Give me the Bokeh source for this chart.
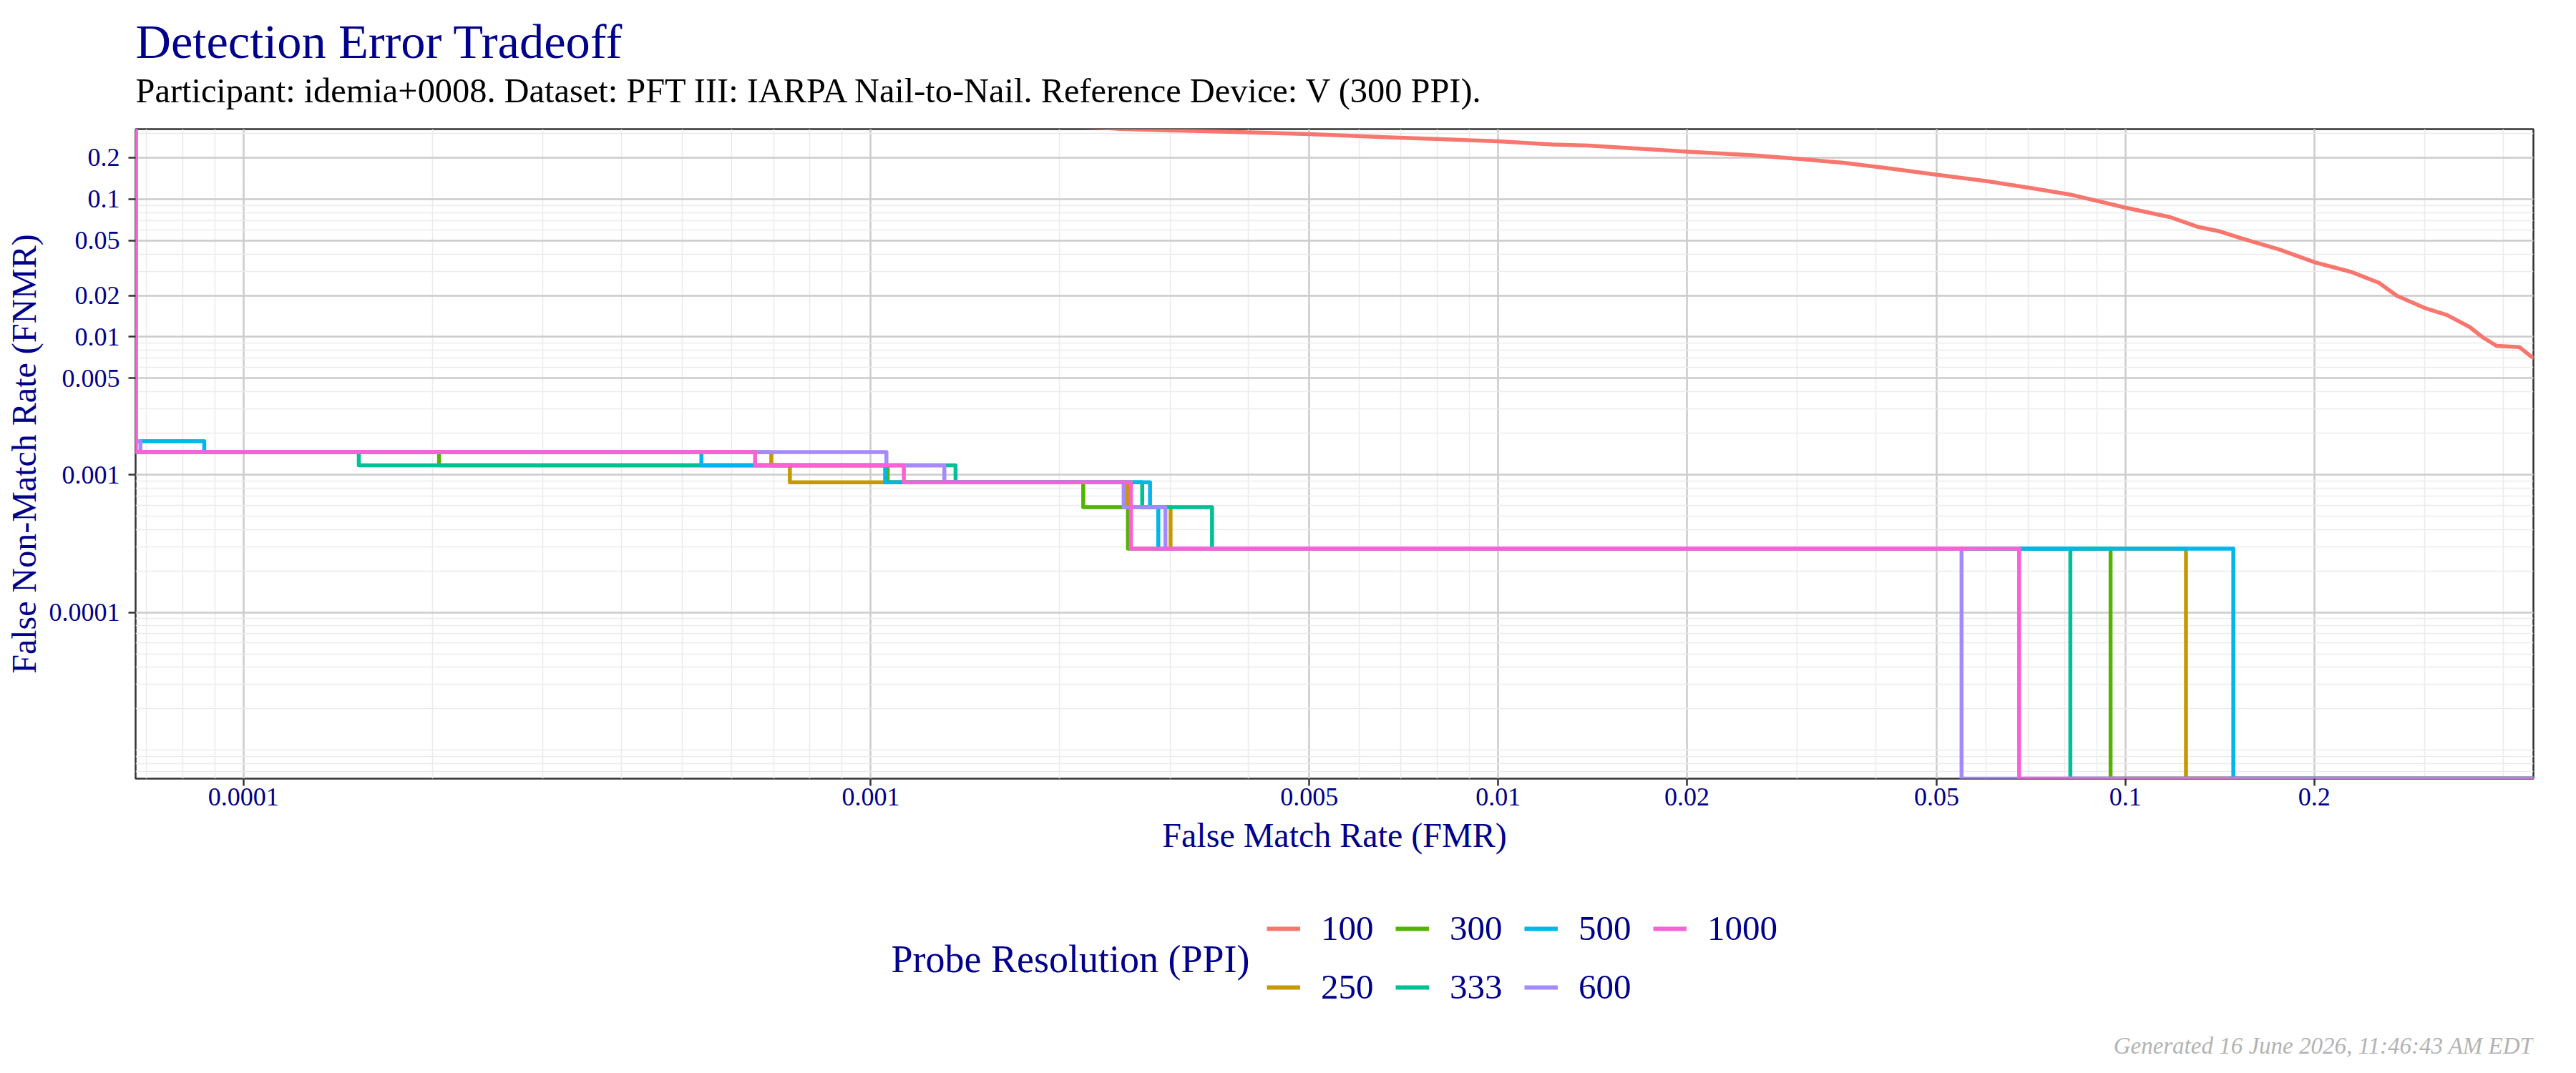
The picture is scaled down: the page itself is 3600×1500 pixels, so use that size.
from bokeh.plotting import figure
from bokeh.models import FixedTicker, Label, Legend, LegendItem, Range1d
from bokeh.layouts import column
from bokeh.embed import file_html
from bokeh.resources import INLINE

FONT = "Liberation Serif"
NAVY = "#00008B"

# ---------------- data ----------------
series_names = ["100", "250", "300", "333", "500", "600", "1000"]
series_colors = ["#F8766D", "#C49A00", "#53B400", "#00C094", "#00B6EB", "#A58AFF", "#FB61D7"]

# 100 PPI: continuous DET curve
fmr_100 = [0.0015, 0.0025, 0.00291, 0.003439, 0.005013, 0.006699, 0.01, 0.01221, 0.01395, 0.02,
           0.02542, 0.03002, 0.03546, 0.0419, 0.05, 0.06046, 0.07142, 0.0816, 0.1, 0.1178,
           0.1302, 0.1415, 0.1537, 0.1757, 0.2007, 0.2293, 0.2535, 0.2709, 0.2995, 0.3255,
           0.3536, 0.3718, 0.3908, 0.4249, 0.4437, 0.46]
fnmr_100 = [0.37, 0.3235, 0.317, 0.3112, 0.2966, 0.2813, 0.2632, 0.2496, 0.2449, 0.2215,
            0.2087, 0.1966, 0.1838, 0.1676, 0.1506, 0.1347, 0.1195, 0.1081, 0.0868, 0.0741,
            0.0631, 0.0583, 0.0517, 0.04323, 0.0347, 0.0296, 0.02472, 0.01987, 0.01627, 0.01443,
            0.01182, 0.00988, 0.0086, 0.00843, 0.00719, 0.0068]

# step curves: FMR where FNMR drops, and FNMR level held before each drop
fmr_first = 6.73e-5      # smallest FMR observed
fmr_last = 0.46          # largest FMR observed
fnmr_top = 1.0           # FNMR before the first threshold
fnmr_floor = 6.21e-6     # FNMR after the last drop

drops_250 = [0.000694, 0.000743, 0.002564, 0.003005, 0.1249]
levels_250 = [0.00146, 0.00117, 0.00088, 0.00058, 0.00029]

drops_300 = [0.000205, 0.001064, 0.002181, 0.002570, 0.0947]
levels_300 = [0.00146, 0.00117, 0.00088, 0.00058, 0.00029]

drops_333 = [0.0001527, 0.001365, 0.002708, 0.003499, 0.0817]
levels_333 = [0.00146, 0.00117, 0.00088, 0.00058, 0.00029]

drops_500 = [0.0000866, 0.000537, 0.001054, 0.002787, 0.002873, 0.1486]
levels_500 = [0.00175, 0.00146, 0.00117, 0.00088, 0.00058, 0.00029]

drops_600 = [0.0000685, 0.001059, 0.001310, 0.002530, 0.002949, 0.0548]
levels_600 = [0.00175, 0.00146, 0.00117, 0.00088, 0.00058, 0.00029]

drops_1000 = [0.000654, 0.001129, 0.002598, 0.0677]
levels_1000 = [0.00146, 0.00117, 0.00088, 0.00029]

x_tick_values = [0.0001, 0.001, 0.005, 0.01, 0.02, 0.05, 0.1, 0.2]
x_tick_labels = ["0.0001", "0.001", "0.005", "0.01", "0.02", "0.05", "0.1", "0.2"]
y_tick_values = [0.0001, 0.001, 0.005, 0.01, 0.02, 0.05, 0.1, 0.2]
y_tick_labels = ["0.0001", "0.001", "0.005", "0.01", "0.02", "0.05", "0.1", "0.2"]

x_limits = [6.73e-5, 0.4471]
y_limits = [6.21e-6, 0.3226]

title_text = "Detection Error Tradeoff"
subtitle_text = ("Participant: idemia+0008. Dataset: PFT III: IARPA Nail-to-Nail. "
                 "Reference Device: V (300 PPI).")
legend_title = "Probe Resolution (PPI)"
footer_text = "Generated 16 June 2026, 11:46:43 AM EDT"


def step_path(drops, levels):
    xs = [fmr_first, fmr_first]
    ys = [fnmr_top, levels[0]]
    for i, d in enumerate(drops):
        nxt = levels[i + 1] if i + 1 < len(levels) else fnmr_floor
        xs += [d, d]
        ys += [levels[i], nxt]
    xs.append(fmr_last)
    ys.append(fnmr_floor)
    return xs, ys


def log_grid(lo_exp, hi_exp):
    vals = []
    for e in range(lo_exp, hi_exp + 1):
        for k in range(1, 10):
            vals.append(k * 10.0 ** e)
    return vals


W = 3600
H_TOP, H_MAIN, H_BOT = 170, 1060, 270
FL, FR = 189, 60          # frame left / right border (shared by all stacked figures)


def blank_figure(h):
    f = figure(width=W, height=h, x_range=Range1d(0, 1), y_range=Range1d(0, 1),
               x_axis_location=None, y_axis_location=None, min_border=0,
               min_border_left=FL, min_border_right=FR,
               output_backend="svg", toolbar_location=None)
    f.outline_line_color = None
    f.background_fill_color = "white"
    f.border_fill_color = "white"
    f.xgrid.visible = False
    f.ygrid.visible = False
    return f


def add_label(f, text, cx, y_from_bottom, size, color, align="left", style="normal"):
    # cx is a canvas x; screen units are measured from the frame's left edge
    f.add_layout(Label(x=cx - FL, y=y_from_bottom, x_units="screen", y_units="screen",
                       text=text, text_font=FONT, text_font_size=size, text_color=color,
                       text_align=align, text_baseline="alphabetic", text_font_style=style))


# ---------------- header ----------------
head = blank_figure(H_TOP)
add_label(head, title_text, 189, H_TOP - 79 + 22, "68.5px", NAVY)
add_label(head, subtitle_text, 189, H_TOP - 142 + 16, "48.4px", "black")

# ---------------- main plot ----------------
FT = 180 - H_TOP
FB = (H_TOP + H_MAIN) - 1088

p = figure(width=W, height=H_MAIN, x_axis_type="log", y_axis_type="log",
           x_range=Range1d(*x_limits), y_range=Range1d(*y_limits),
           output_backend="svg", toolbar_location=None,
           min_border_left=FL, min_border_right=FR, min_border_top=FT, min_border_bottom=FB)
p.background_fill_color = "white"
p.border_fill_color = "white"
p.outline_line_color = "#333333"
p.outline_line_width = 2.5

xt = FixedTicker(ticks=x_tick_values, minor_ticks=log_grid(-5, -1))
yt = FixedTicker(ticks=y_tick_values, minor_ticks=log_grid(-6, -1))
p.xaxis.ticker = xt
p.yaxis.ticker = yt
p.xgrid.ticker = xt
p.ygrid.ticker = yt
p.xaxis.major_label_overrides = {v: s for v, s in zip(x_tick_values, x_tick_labels)}
p.yaxis.major_label_overrides = {v: s for v, s in zip(y_tick_values, y_tick_labels)}

for g in (p.xgrid, p.ygrid):
    g.grid_line_color = "#CCCCCC"
    g.grid_line_width = 2.5
    g.minor_grid_line_color = "#EBEBEB"
    g.minor_grid_line_width = 1.5

for ax in (p.xaxis, p.yaxis):
    ax.axis_line_color = None
    ax.minor_tick_line_color = None
    ax.major_tick_line_color = "#333333"
    ax.major_tick_line_width = 2.5
    ax.major_tick_out = 10
    ax.major_tick_in = 0
    ax.major_label_text_font = FONT
    ax.major_label_text_font_size = "36px"
    ax.major_label_text_color = NAVY
    ax.axis_label_text_font = FONT
    ax.axis_label_text_font_size = "48px"
    ax.axis_label_text_font_style = "normal"
    ax.axis_label_text_color = NAVY

p.xaxis.axis_label = "False Match Rate (FMR)"
p.yaxis.axis_label = "False Non-Match Rate (FNMR)"
p.xaxis.major_label_standoff = 3
p.xaxis.axis_label_standoff = 12
p.yaxis.major_label_standoff = 12
p.yaxis.axis_label_standoff = 6

paths = [(fmr_100, fnmr_100),
         step_path(drops_250, levels_250),
         step_path(drops_300, levels_300),
         step_path(drops_333, levels_333),
         step_path(drops_500, levels_500),
         step_path(drops_600, levels_600),
         step_path(drops_1000, levels_1000)]

for name, color, (xs, ys) in zip(series_names, series_colors, paths):
    p.line(xs, ys, line_color=color, line_width=5.5, line_join="round")

# ---------------- legend + footer ----------------
bot = blank_figure(H_BOT)
nan = float("nan")
items = []
for name, color in zip(series_names, series_colors):
    # legend key proxy: same style as the plotted series, no visible data
    r = bot.line(x=[nan, nan], y=[nan, nan], line_color=color, line_width=6)
    items.append(LegendItem(label=name, renderers=[r]))

legend = Legend(items=items, location=(1770 - FL, 92), orientation="vertical", nrows=2,
                glyph_width=47, glyph_height=56, label_height=56, label_standoff=29,
                label_width=79, spacing=25, padding=0, margin=0,
                border_line_color=None, background_fill_alpha=0,
                label_text_font=FONT, label_text_font_size="49px", label_text_color=NAVY)
bot.add_layout(legend)

base_y = H_TOP + H_MAIN + H_BOT
add_label(bot, legend_title, 1245, base_y - 1357 + 17, "54px", NAVY)
add_label(bot, footer_text, 3540, base_y - 1472 + 11, "33px", "#B3B3B3", align="right", style="italic")

layout = column(head, p, bot, spacing=0)
open("out.html", "w").write(file_html(layout, INLINE))
